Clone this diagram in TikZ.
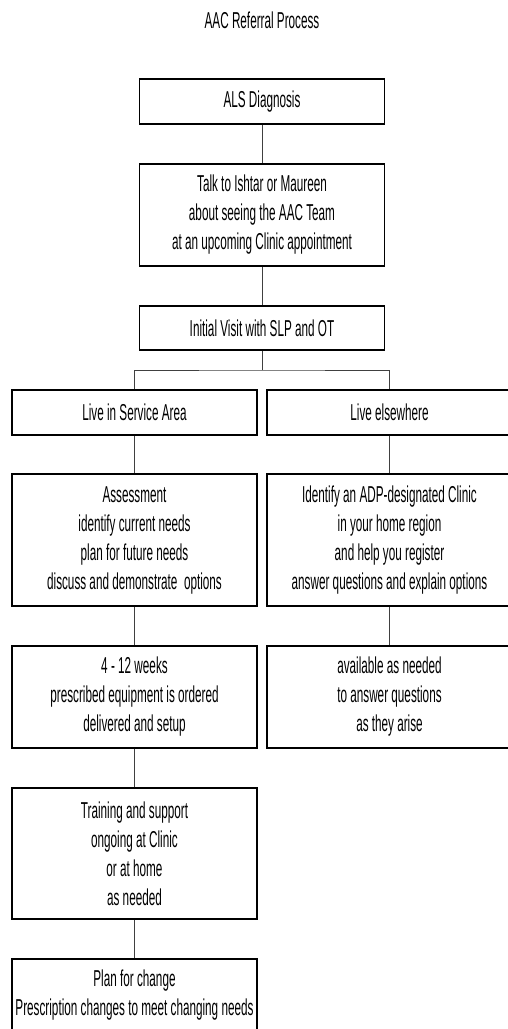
\documentclass[tikz,border=0pt]{standalone}
\usepackage{fontspec}
\setmainfont{Liberation Sans}[FakeStretch=0.51]
\begin{document}
\begin{tikzpicture}[x=0.5pt, y=-0.5pt,
  stage/.style={draw=black, line width=0.75pt, rectangle, align=center,
    inner sep=0pt, minimum width=122.5pt},
  link/.style={draw=black!75, line width=0.5pt},
  font=\fontsize{11.5}{14.5}\selectfont]
\useasboundingbox (0,0) rectangle (508,1029);
\node (title) at (262,20) {AAC Referral Process};

\node[stage, minimum height=22.5pt] (diag) at (262,101.5) {ALS Diagnosis};
\node[stage, minimum height=51pt] (talk) at (262,215) {Talk to Ishtar or Maureen\\about seeing the AAC Team\\at an upcoming Clinic appointment};
\node[stage, minimum height=22pt] (visit) at (262,328) {Initial Visit with SLP and OT};

\node[stage, minimum height=22.5pt] (svc) at (134.5,412.5) {Live in Service Area};
\node[stage, minimum height=22.5pt] (else) at (389.5,412.5) {Live elsewhere};

\node[stage, minimum height=66pt] (assess) at (134.5,540) {Assessment\\identify current needs\\plan for future needs\\discuss and demonstrate\ \ options};
\node[stage, minimum height=66pt] (adp) at (389.5,540) {Identify an ADP-designated Clinic\\in your home region\\and help you register\\answer questions and explain options};

\node[stage, minimum height=51pt] (weeks) at (134.5,697) {4 - 12 weeks\\prescribed equipment is ordered\\delivered and setup};
\node[stage, minimum height=51pt] (avail) at (389.5,697) {available as needed\\to answer questions\\as they arise};

\node[stage, minimum height=65.5pt] (train) at (134.5,853.5) {Training and support\\ongoing at Clinic\\or at home\\as needed};
\node[stage, minimum height=36.5pt] (change) at (134.5,995.5) {Plan for change\\Prescription changes to meet changing needs};

\coordinate (split) at (262,370);

\draw[link] (diag) -- (talk);
\draw[link] (talk) -- (visit);
\draw[link] (visit) -- (split);
\draw[link] (svc.north) |- (split) -| (else.north);
\draw[link] (svc) -- (assess);
\draw[link] (else) -- (adp);
\draw[link] (assess) -- (weeks);
\draw[link] (adp) -- (avail);
\draw[link] (weeks) -- (train);
\draw[link] (train) -- (change);
\end{tikzpicture}
\end{document}
